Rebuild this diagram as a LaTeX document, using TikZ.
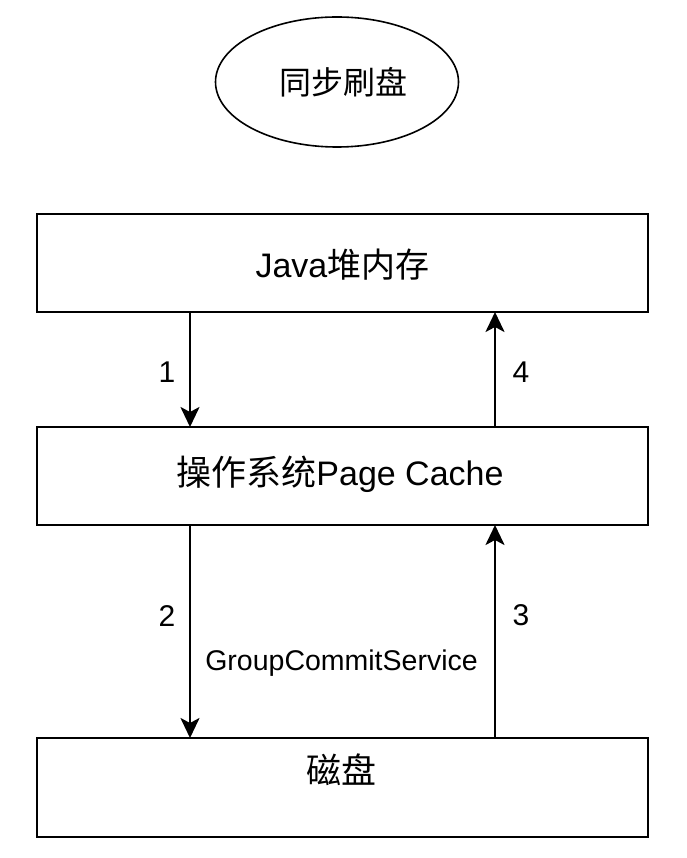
\documentclass[tikz,border=0pt]{standalone}
\usepackage{fontspec}
\setmainfont{Liberation Sans}
\newfontfamily\cjk{Noto Sans CJK SC}
\usetikzlibrary{arrows.meta,shapes.geometric}
\begin{document}
\begin{tikzpicture}[x=1pt,y=-1pt,
  boxnode/.style={draw=black,line width=2pt,rectangle,minimum width=611pt,minimum height=98pt,inner sep=0pt},
  conn/.style={line width=2.4pt,-{Stealth[width=19pt,length=20pt,inset=5pt]}},
  numlabel/.style={font=\fontsize{30}{34}\selectfont,inner sep=0pt},
  bigtext/.style={font=\fontsize{34}{40}\selectfont,inner sep=0pt}]
\useasboundingbox (0,0) rectangle (686,858);
\fill[white] (0,0) rectangle (686,858);
% ellipse
\node (sync) [draw=black,line width=1.6pt,ellipse,minimum width=243pt,minimum height=130pt,inner sep=0pt] at (337,82) {};
\node (synclabel) [inner sep=0pt,font=\fontsize{32}{36}\selectfont\cjk] at (343,82) {同步刷盘};
% boxes
\node (heap) [boxnode] at (342.5,263) {};
\node (heaplabel) [bigtext] at (342.5,265) {Java{\cjk 堆内存}};
\node (cache) [boxnode] at (342.5,476) {};
\node (cachelabel) [bigtext] at (340,474) {{\cjk\fontsize{35}{40}\selectfont 操作系统}Page Cache};
\node (disk) [boxnode,minimum height=99pt] at (342.5,787.5) {};
\node (disklabel) [inner sep=0pt,font=\fontsize{35}{40}\selectfont\cjk] at (341.5,770) {磁盘};
% connectors
\coordinate (h1) at (190,312);
\coordinate (c1) at (190,427);
\coordinate (h4) at (495,312);
\coordinate (c4) at (495,427);
\coordinate (c2) at (190,525);
\coordinate (d2) at (190,738);
\coordinate (c3) at (495,525);
\coordinate (d3) at (495,738);
\draw[conn] (h1) -- (c1);
\draw[conn] (c4) -- (h4);
\draw[conn] (c2) -- (d2);
\draw[conn] (d3) -- (c3);
% labels
\node (n1) [numlabel] at (167,372) {1};
\node (n4) [numlabel] at (521,372) {4};
\node (n2) [numlabel] at (167,616) {2};
\node (n3) [numlabel] at (521,615) {3};
\node (gcs) [inner sep=0pt,font=\fontsize{28.5}{32}\selectfont] at (341.5,663) {GroupCommitService};
\end{tikzpicture}
\end{document}
